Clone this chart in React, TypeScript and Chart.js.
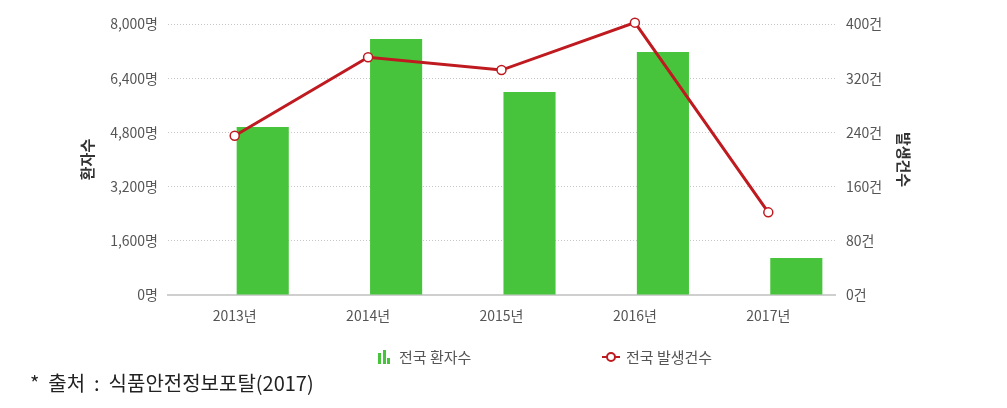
import React, { useEffect, useRef } from "react";
import { Chart, registerables } from "chart.js";

Chart.register(...registerables);

const categories = ["2013년", "2014년", "2015년", "2016년", "2017년"];
const patients = [4958, 7557, 5993, 7173, 1092];
const outbreaks = [235, 351, 332, 402, 122];
const emptySlot = [null, null, null, null, null];
const leftTicks = [0, 1600, 3200, 4800, 6400, 8000];
const rightTicks = [0, 80, 160, 240, 320, 400];

const FONT = "'Noto Sans CJK KR', 'Noto Sans', sans-serif";
const GREEN = "#47c43c";
const RED = "#bf1a1f";

export default function App() {
  const ref = useRef<HTMLCanvasElement | null>(null);
  useEffect(() => {
    if (!ref.current) return;
    const chart = new Chart(ref.current, {
      type: "bar",
      data: {
        labels: categories,
        datasets: [
          {
            type: "line",
            label: "전국 발생건수",
            data: outbreaks,
            yAxisID: "y1",
            borderColor: RED,
            backgroundColor: "#ffffff",
            borderWidth: 3,
            pointRadius: 4.5,
            pointBorderWidth: 1.5,
            pointBackgroundColor: "#ffffff",
            pointBorderColor: RED,
            tension: 0,
            clip: false as any,
            order: 0,
          } as any,
          {
            type: "bar",
            label: "",
            data: emptySlot as any,
            yAxisID: "y",
            backgroundColor: "rgba(0,0,0,0)",
            barPercentage: 0.93,
            categoryPercentage: 0.84,
            order: 1,
          },
          {
            type: "bar",
            label: "전국 환자수",
            data: patients,
            yAxisID: "y",
            backgroundColor: GREEN,
            barPercentage: 0.93,
            categoryPercentage: 0.84,
            order: 2,
          },
        ],
      },
      options: {
        animation: false,
        responsive: false,
        maintainAspectRatio: false,
        layout: { padding: { left: 78, right: 94, top: 24, bottom: 73 } },
        plugins: { legend: { display: false }, tooltip: { enabled: false } },
        scales: {
          x: {
            grid: { display: false, drawTicks: false },
            border: { display: true, color: "#cfcfcf", width: 2 },
            ticks: { padding: 12, color: "#555", font: { family: FONT, size: 14 } },
            afterFit: (s: any) => { s.height = 40; },
          },
          y: {
            position: "left",
            min: 0,
            max: 8000,
            afterBuildTicks: (s: any) => { s.ticks = leftTicks.map((v) => ({ value: v })); },
            grid: {
              drawTicks: false,
              color: (c: any) => (c.tick && c.tick.value === 0 ? "rgba(0,0,0,0)" : "#c8c8c8"),
              lineWidth: 1,
            },
            border: { display: false, dash: [1, 2] },
            ticks: {
              padding: 10,
              color: "#555",
              font: { family: FONT, size: 14 },
              callback: (v: any) => Number(v).toLocaleString("en-US") + "명",
            },
            title: {
              display: true,
              text: "환자수",
              color: "#333",
              font: { family: FONT, size: 15, weight: "bold" },
              padding: { top: 0, bottom: 0 },
            },
            afterFit: (s: any) => { s.width = 90; },
          } as any,
          y1: {
            position: "right",
            min: 0,
            max: 400,
            afterBuildTicks: (s: any) => { s.ticks = rightTicks.map((v) => ({ value: v })); },
            grid: { display: false, drawTicks: false },
            border: { display: false },
            ticks: {
              padding: 11,
              color: "#555",
              font: { family: FONT, size: 14 },
              callback: (v: any) => v + "건",
            },
            title: {
              display: true,
              text: "발생건수",
              color: "#333",
              font: { family: FONT, size: 15, weight: "bold" },
              padding: { top: 0, bottom: 0 },
            },
            afterFit: (s: any) => { s.width = 78; },
          } as any,
        },
      },
    });
    return () => chart.destroy();
  }, []);

  return (
    <div style={{ position: "fixed", left: 0, top: 0, width: 1007, height: 408, background: "#fff" }}>
      <canvas ref={ref} width={1007} height={408} style={{ position: "absolute", left: 0, top: 0 }} />
      <div style={{ position: "absolute", left: 378, top: 346, display: "flex", alignItems: "center", fontFamily: FONT, fontSize: 15, color: "#555" }}>
        <span style={{ display: "inline-flex", alignItems: "flex-end", height: 14, marginRight: 9 }}>
          <span style={{ width: 3, height: 11, background: GREEN, marginRight: 1.5 }} />
          <span style={{ width: 3, height: 14, background: GREEN, marginRight: 1.5 }} />
          <span style={{ width: 3, height: 6, background: GREEN }} />
        </span>
        <span>전국 환자수</span>
      </div>
      <div style={{ position: "absolute", left: 602, top: 346, display: "flex", alignItems: "center", fontFamily: FONT, fontSize: 15, color: "#555" }}>
        <span style={{ position: "relative", width: 18, height: 14, marginRight: 6 }}>
          <span style={{ position: "absolute", left: 0, top: 6, width: 18, height: 2, background: RED }} />
          <span style={{ position: "absolute", left: 4, top: 2, width: 6, height: 6, borderRadius: "50%", border: `2px solid ${RED}`, background: "#fff" }} />
        </span>
        <span>전국 발생건수</span>
      </div>
      <div style={{ position: "absolute", left: 30, top: 368, fontFamily: FONT, fontSize: 20, color: "#222", whiteSpace: "pre" }}>
        {"*  출처  :  식품안전정보포탈(2017)"}
      </div>
    </div>
  );
}
